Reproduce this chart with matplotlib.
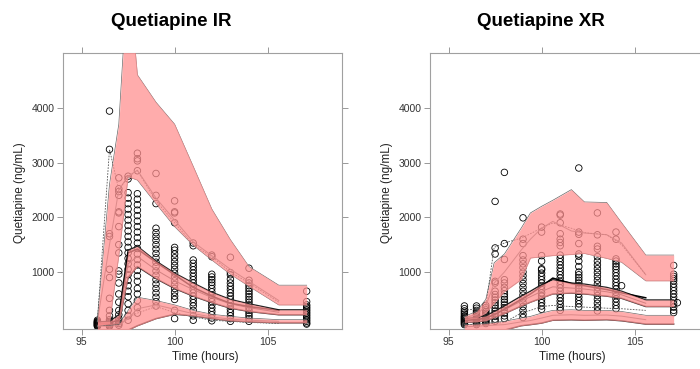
#!/usr/bin/env python3
# VPC of quetiapine concentrations, IR vs XR formulation
import matplotlib
matplotlib.use('Agg')
import matplotlib.pyplot as plt
import numpy as np

plt.rcParams['font.family'] = ['Liberation Sans', 'DejaVu Sans']

# ---------------- Quetiapine IR ----------------
ir_x = [95.85, 96.5, 97.0, 97.5, 98.0, 99.0, 100.0, 101.0, 102.0, 103.0, 104.0, 105.6, 107.1]
# simulated prediction intervals (95% CI of 95th, 50th, 5th percentiles)
ir_hi_top = [150, 2600, 3700, 6500, 4600, 4100, 3700, 2930, 2150, 1590, 1100, 760, 760]
ir_hi_bot = [20, 60, 1300, 2740, 2680, 2250, 1830, 1490, 1220, 960, 740, 400, 400]
ir_mid_top = [90, 100, 220, 1400, 1470, 1200, 980, 800, 630, 500, 420, 310, 310]
ir_mid_bot = [30, 40, 60, 900, 1100, 880, 700, 560, 440, 340, 280, 220, 220]
ir_lo_top = [20, 30, 50, 300, 540, 480, 400, 300, 230, 190, 160, 130, 130]
ir_lo_bot = [-80, -80, -80, -60, 20, 150, 230, 200, 150, 110, 90, 73, 73]
# simulated medians of percentiles (to 105.6)
ir_sim_hi = [100, 1500, 2500, 2750, 2860, 2350, 1950, 1550, 1300, 1050, 830, 480]
ir_sim_lo = [10, 15, 25, 150, 330, 400, 320, 240, 180, 140, 120, 100]
# observed percentiles
ir_obs_med = [60, 70, 120, 1350, 1420, 1180, 950, 720, 560, 430, 370, 300]
ir_obs_hi = [120, 3240, 2500, 2740, 2850, 2300, 1900, 1500, 1280, 1000, 800, 450]
ir_obs_lo = [20, 25, 30, 180, 250, 370, 260, 180, 120, 100, 80, 60]

ir_t = [95.85, 96.5, 97.0, 97.5, 98.0, 99.0, 100.0, 101.0, 102.0, 103.0, 104.0, 107.1]
ir_obs = [
    [10, 20, 30, 40, 50, 60, 70, 80, 90, 100, 120],
    [3940, 3240, 1700, 1650, 1050, 900, 520, 300, 200, 130, 100, 80, 60, 40, 20, 10],
    [2720, 2520, 2470, 2400, 2100, 2080, 1830, 1500, 1350, 1020, 960, 800, 600, 450,
     300, 220, 150, 100, 60, 30],
    [2750, 2700, 2450, 2350, 2250, 2150, 2050, 1950, 1850, 1750, 1650, 1550, 1450, 1350,
     1250, 1150, 1050, 950, 850, 750, 650, 550, 420, 300, 200, 120],
    [3170, 3070, 3030, 2850, 2430, 2330, 2230, 2130, 2030, 1930, 1830, 1730, 1630, 1530,
     1430, 1330, 1230, 1130, 1030, 930, 830, 700, 600, 480, 350, 250],
    [2800, 2400, 2250, 1800, 1720, 1650, 1580, 1500, 1420, 1340, 1260, 1180, 1100, 1020,
     940, 860, 780, 700, 620, 540, 460, 380],
    [2300, 2100, 2080, 1900, 1450, 1400, 1330, 1260, 1190, 1120, 1050, 980, 910, 840,
     770, 700, 630, 560, 500, 300, 150],
    [1530, 1480, 1220, 1160, 1100, 1040, 980, 920, 860, 800, 740, 680, 620, 560, 500,
     440, 380, 300, 200, 120],
    [1310, 1280, 960, 910, 860, 810, 760, 700, 640, 580, 520, 460, 400, 340, 280, 220,
     160, 110],
    [1270, 990, 950, 870, 800, 740, 680, 620, 560, 500, 440, 380, 320, 260, 200, 150, 100],
    [1070, 850, 800, 750, 700, 650, 600, 550, 500, 450, 400, 350, 300, 250, 200, 150, 100],
    [650, 460, 400, 370, 340, 310, 280, 250, 220, 190, 160, 130, 100, 70, 50],
]
ir_extra_t = []
ir_extra_v = []

# ---------------- Quetiapine XR ----------------
xr_x = [95.85, 96.5, 97.0, 97.45, 98.0, 98.9, 99.4, 100.0, 100.6, 101.6, 102.3, 103.5,
        104.3, 105.6, 107.1]
xr_hi_top = [190, 280, 500, 1170, 1330, 1800, 2080, 2200, 2310, 2505, 2280, 2270, 1900, 1310, 1310]
xr_hi_bot = [140, 160, 250, 430, 640, 860, 1256, 1280, 1300, 1320, 1340, 1250, 1180, 840, 840]
xr_mid_top = [150, 170, 200, 280, 380, 560, 650, 770, 860, 800, 780, 720, 650, 490, 490]
xr_mid_bot = [80, 90, 110, 170, 240, 380, 450, 525, 600, 616, 600, 560, 520, 370, 370]
xr_lo_top = [40, 50, 60, 80, 100, 160, 190, 250, 300, 311, 300, 300, 280, 210, 210]
xr_lo_bot = [-80, -80, -80, -80, -60, 20, 40, 68, 120, 128, 120, 130, 110, 50, 50]
xr_sim_hi = [170, 220, 380, 800, 1000, 1400, 1600, 1800, 1925, 1750, 1713, 1682, 1530, 950]
xr_sim_lo = [0, 10, 20, 30, 40, 90, 115, 160, 210, 220, 210, 215, 195, 130]
xr_obs_med = [120, 130, 160, 220, 320, 500, 600, 740, 890, 790, 750, 680, 620, 530]
xr_obs_hi = [300, 330, 380, 1450, 1530, 1620, 1700, 1805, 1895, 1800, 1720, 1680, 1500, 950]
xr_obs_lo = [40, 40, 50, 60, 80, 250, 300, 370, 390, 370, 360, 340, 330, 300]

xr_t = [95.85, 96.5, 97.0, 97.5, 98.0, 99.0, 100.0, 101.0, 102.0, 103.0, 104.0, 107.1]
xr_obs = [
    [380, 330, 290, 260, 230, 200, 180, 160, 140, 120, 100, 80, 60, 40],
    [380, 340, 300, 270, 240, 210, 180, 160, 140, 120, 100, 80, 60, 40],
    [390, 350, 310, 280, 250, 220, 190, 160, 140, 120, 100, 80, 60],
    [2290, 1440, 1330, 830, 800, 650, 590, 540, 490, 440, 390, 340, 290, 240, 190, 140, 100],
    [2820, 1520, 1230, 860, 800, 720, 660, 600, 550, 500, 450, 400, 350, 300, 250, 200, 150],
    [1990, 1600, 1520, 1300, 1220, 1150, 1080, 1000, 930, 860, 790, 720, 650, 580, 510,
     440, 370, 300, 230, 170],
    [1820, 1730, 1300, 1200, 1060, 1040, 980, 920, 860, 800, 740, 680, 620, 560, 500,
     440, 380, 320],
    [2060, 2040, 1900, 1700, 1600, 1540, 1480, 1310, 1250, 1190, 1130, 1070, 1010, 950,
     890, 830, 770, 710, 650, 590, 530, 470, 410, 350, 300],
    [2900, 1730, 1690, 1520, 1330, 1290, 1200, 1100, 1000, 950, 900, 850, 800, 750, 700,
     650, 600, 540, 480, 420, 360],
    [2080, 1680, 1470, 1420, 1280, 1200, 1130, 1060, 990, 920, 850, 780, 710, 640, 570,
     500, 430, 360, 290],
    [1730, 1600, 1240, 1200, 1150, 1100, 1050, 990, 930, 870, 810, 750, 690, 630, 570,
     510, 450, 390, 330],
    [1120, 960, 920, 880, 840, 780, 720, 660, 600, 540, 480, 420, 360, 300, 260],
]
xr_extra_t = [104.3, 107.3]
xr_extra_v = [750, 440]

pink = '#ff9090'


def draw_panel(ax, x, bands, sim_hi, sim_lo, obs_med, obs_hi, obs_lo, t, obs, ex_t, ex_v):
    # observed data
    for ti, vals in zip(t, obs):
        ax.scatter([ti] * len(vals), vals, s=22, facecolors='none',
                   edgecolors='black', linewidths=0.6, zorder=2)
    if ex_t:
        ax.scatter(ex_t, ex_v, s=22, facecolors='none', edgecolors='black',
                   linewidths=0.6, zorder=2)
    hi, mid, lo = bands
    n = len(sim_hi)
    # band borders (under the fill)
    ax.plot(x, hi[0], color='#666666', lw=0.5, zorder=3)
    ax.plot(x, hi[1], color='#666666', lw=0.5, zorder=3)
    ax.plot(x, mid[0], color='#222222', lw=1.0, zorder=3)
    ax.plot(x, mid[1], color='#222222', lw=1.0, zorder=3)
    ax.plot(x, lo[0], color='#666666', lw=0.5, zorder=3)
    ax.plot(x, lo[1], color='#222222', lw=1.0, zorder=3)
    # medians of simulated percentiles
    mid_med = [(a + b) / 2 for a, b in zip(mid[0], mid[1])]
    ax.plot(x[:n], sim_hi, color='#777777', lw=0.7, zorder=3)
    ax.plot(x[:n], mid_med[:n], color='#555555', lw=0.7, zorder=3)
    ax.plot(x[:n], sim_lo, color='#777777', lw=0.7, zorder=3)
    # observed percentiles
    ax.plot(x[:n], obs_med, color='black', lw=1.1, zorder=3)
    ax.plot(x[:n], obs_hi, color='#555555', lw=0.6, ls=(0, (2, 1.5)), zorder=3)
    ax.plot(x[:n], obs_lo, color='#555555', lw=0.6, ls=(0, (2, 1.5)), zorder=3)
    # shaded intervals on top
    for top, bot in (hi, mid, lo):
        ax.fill_between(x, bot, top, color=pink, alpha=0.75, lw=0, zorder=4)

    ax.set_xlim(94, 109)
    ax.set_ylim(-40, 5000)
    ax.set_xticks([95, 100, 105])
    ax.set_yticks([1000, 2000, 3000, 4000])
    ax.tick_params(direction='out', top=True, right=True, length=4, width=0.6,
                   color='#888888', labelsize=7.5, labelcolor='#333333', pad=2)
    for s in ax.spines.values():
        s.set_color('#a0a0a0')
        s.set_linewidth(0.8)


fig = plt.figure(figsize=(7.0, 3.69), dpi=100)
ax1 = fig.add_axes([63 / 700, 1 - 329 / 369, 279 / 700, 276 / 369])
ax2 = fig.add_axes([430 / 700, 1 - 329 / 369, 279 / 700, 276 / 369])

draw_panel(ax1, ir_x, ((ir_hi_top, ir_hi_bot), (ir_mid_top, ir_mid_bot), (ir_lo_top, ir_lo_bot)),
           ir_sim_hi, ir_sim_lo, ir_obs_med, ir_obs_hi, ir_obs_lo, ir_t, ir_obs,
           ir_extra_t, ir_extra_v)
draw_panel(ax2, xr_x, ((xr_hi_top, xr_hi_bot), (xr_mid_top, xr_mid_bot), (xr_lo_top, xr_lo_bot)),
           xr_sim_hi, xr_sim_lo, xr_obs_med, xr_obs_hi, xr_obs_lo, xr_t, xr_obs,
           xr_extra_t, xr_extra_v)

for ax, tx, lx, xx in ((ax1, 171, 20, 205), (ax2, 541, 387, 572)):
    fig.text(tx / 700, 1 - 21 / 369, 'Quetiapine ' + ('IR' if ax is ax1 else 'XR'),
             ha='center', va='center', fontsize=13.5, fontweight='bold')
    fig.text(lx / 700, 1 - 193 / 369, 'Quetiapine (ng/mL)', rotation=90,
             ha='center', va='center', fontsize=8.5, color='#222222')
    fig.text(xx / 700, 1 - 357 / 369, 'Time (hours)', ha='center', va='center',
             fontsize=8.5, color='#222222')

plt.savefig('out.png', dpi=100)
plt.close('all')
